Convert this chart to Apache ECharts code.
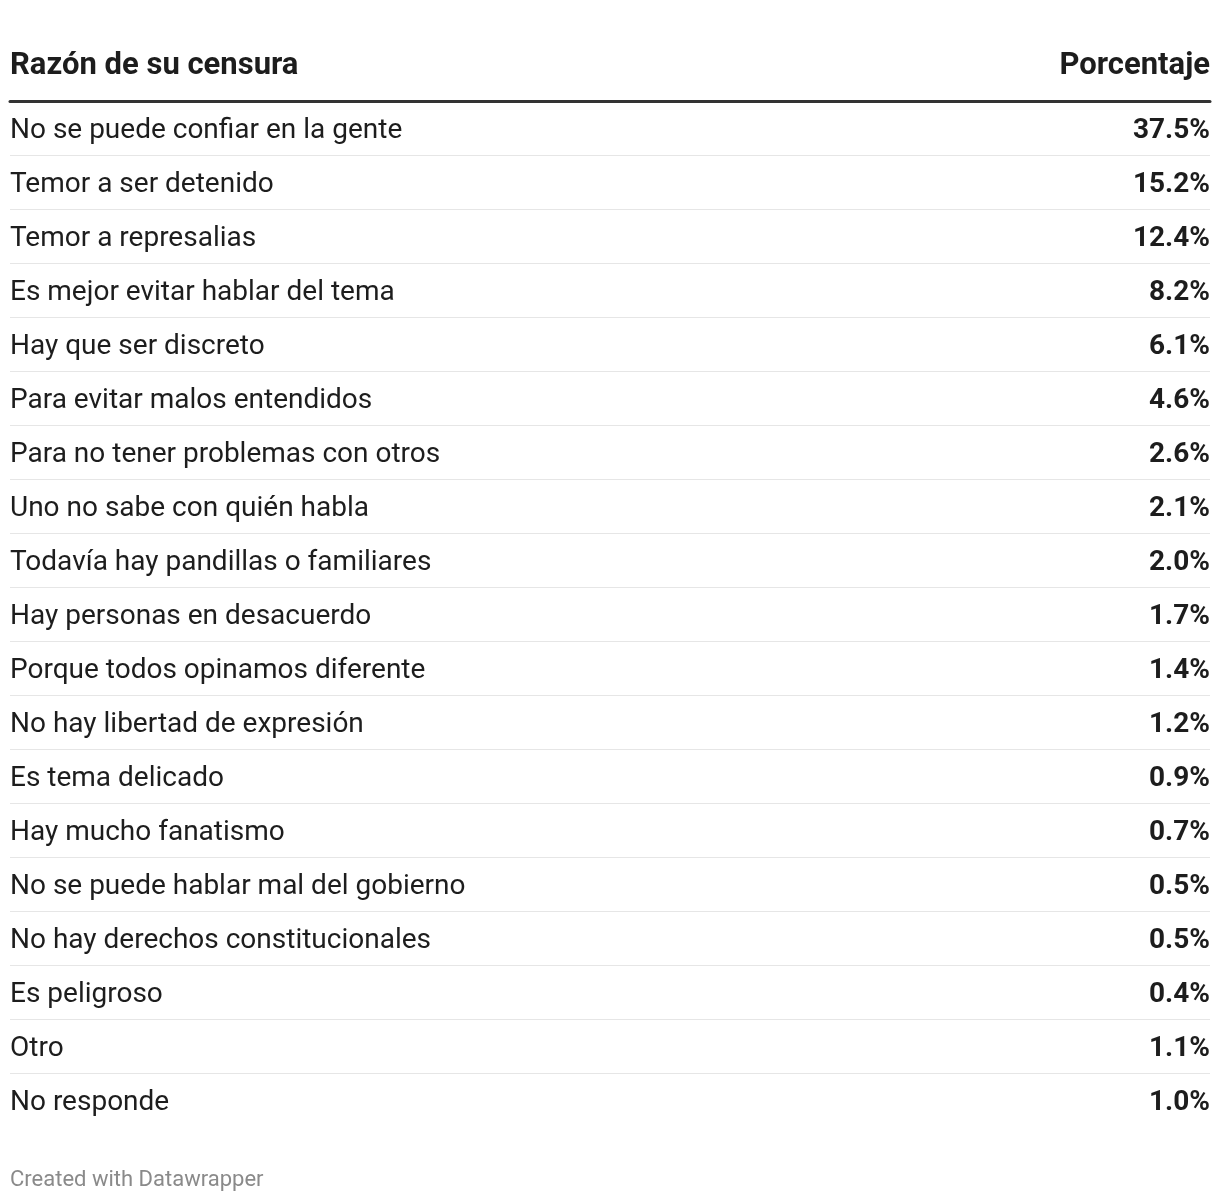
<!DOCTYPE html>
<html>
<head>
<meta charset="utf-8">
<script src="https://cdn.jsdelivr.net/npm/echarts@6/dist/echarts.min.js"></script>
<style>html,body{margin:0;padding:0;background:#fff}#c{width:1220px;height:1202px}</style>
</head>
<body>
<div id="c"></div>
<script>
const categories = ["No se puede confiar en la gente","Temor a ser detenido","Temor a represalias","Es mejor evitar hablar del tema","Hay que ser discreto","Para evitar malos entendidos","Para no tener problemas con otros","Uno no sabe con quién habla","Todavía hay pandillas o familiares","Hay personas en desacuerdo","Porque todos opinamos diferente","No hay libertad de expresión","Es tema delicado","Hay mucho fanatismo","No se puede hablar mal del gobierno","No hay derechos constitucionales","Es peligroso","Otro","No responde"];
const values = [37.5,15.2,12.4,8.2,6.1,4.6,2.6,2.1,2.0,1.7,1.4,1.2,0.9,0.7,0.5,0.5,0.4,1.1,1.0];
const headers = ["Razón de su censura","Porcentaje"];
const footer = "Created with Datawrapper";

const FONT = 'Roboto';
const n = categories.length;
const sepColors = [];
for (let i = 0; i <= n; i++) sepColors.push(i === 0 || i === n ? 'rgba(0,0,0,0)' : '#e6e6e6');
const chart = echarts.init(document.getElementById('c'), null, {renderer:'canvas'});
chart.setOption({
  animation:false,
  backgroundColor:'#fff',
  title:[
    {text:headers[0], left:10, top:46, padding:0, textStyle:{fontFamily:FONT,fontSize:31,fontWeight:'bold',color:'#1d1d1d',lineHeight:40}},
    {text:headers[1], right:10, top:46, padding:0, textStyle:{fontFamily:FONT,fontSize:31,fontWeight:'bold',color:'#1d1d1d',lineHeight:40}},
    {text:footer, left:10, top:1165, padding:0, textStyle:{fontFamily:FONT,fontSize:22,fontWeight:'normal',color:'#8a8a8a',lineHeight:30}}
  ],
  grid:{left:10,right:10,top:101,height:54*n,containLabel:false},
  xAxis:{type:'value',position:'top',min:0,max:40,
    axisLine:{show:true,onZero:false,lineStyle:{color:'#333',width:3}},
    axisTick:{show:false},axisLabel:{show:false},splitLine:{show:false}},
  yAxis:[
    {type:'category',inverse:true,data:categories,
      axisLine:{show:false},axisTick:{show:false},
      axisLabel:{inside:true,margin:0,align:'left',verticalAlign:'middle',
        formatter:function(v){return '{t|'+v+'}';},
        rich:{t:{fontFamily:FONT,fontSize:28,color:'#1d1d1d',lineHeight:34,padding:[6,0,0,0]}},
        fontFamily:FONT,fontSize:28,color:'#1d1d1d'},
      splitLine:{show:true,lineStyle:{color:sepColors,width:1}}},
    {type:'category',inverse:true,position:'right',data:values.map(v=>v.toFixed(1)+'%'),
      axisLine:{show:false},axisTick:{show:false},
      axisLabel:{inside:true,margin:0,align:'right',verticalAlign:'middle',
        formatter:function(v){return '{t|'+v+'}';},
        rich:{t:{fontFamily:FONT,fontSize:28,fontWeight:'bold',color:'#1d1d1d',lineHeight:34,padding:[6,0,0,0]}},
        fontFamily:FONT,fontSize:28,fontWeight:'bold',color:'#1d1d1d'},
      splitLine:{show:false}}
  ],
  series:[{type:'bar',data:values,barWidth:0,itemStyle:{opacity:0},silent:true}]
});
</script>
</body>
</html>
